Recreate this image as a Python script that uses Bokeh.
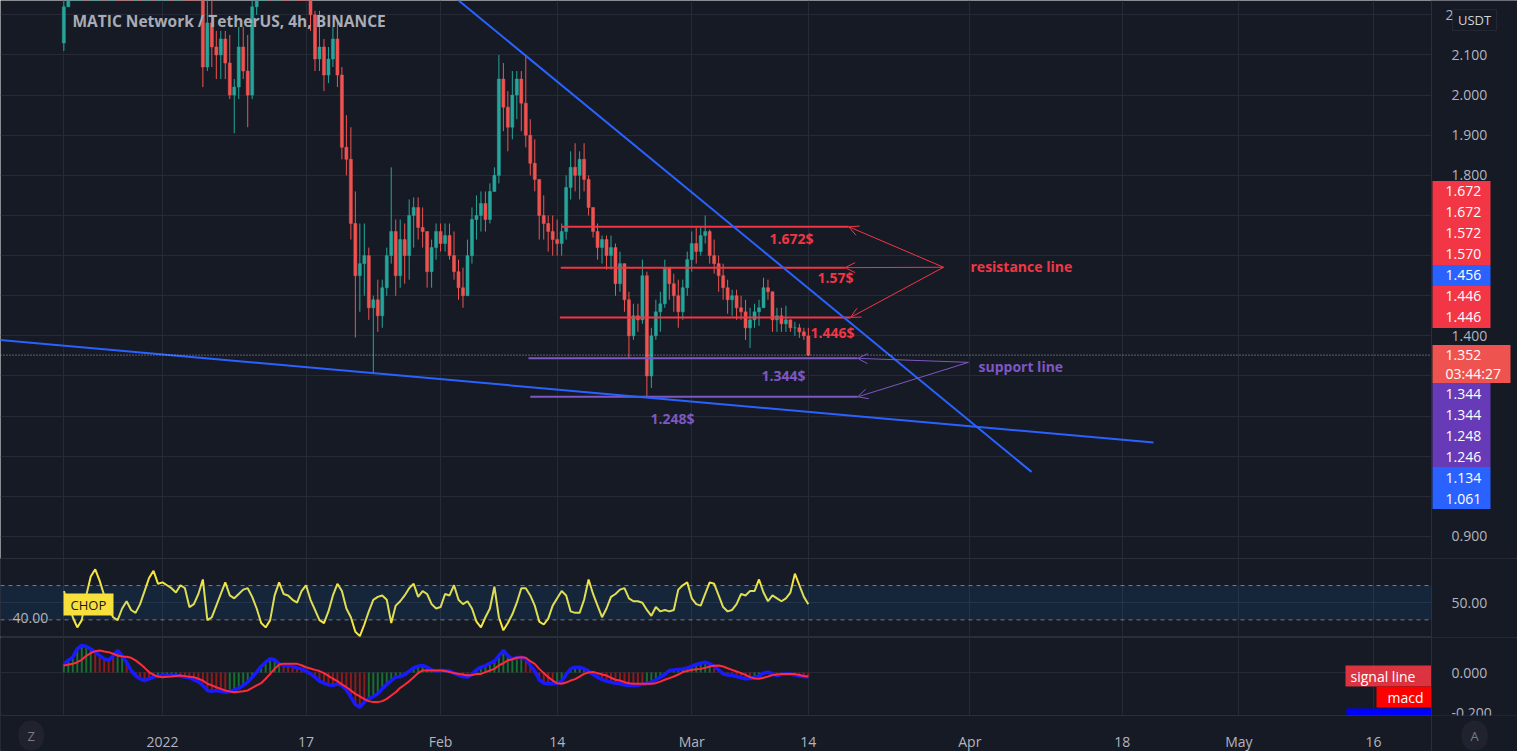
from bokeh.plotting import figure
from bokeh.layouts import column
from bokeh.models import (Range1d, FixedTicker, NumeralTickFormatter, Label, LinearAxis,
                          Arrow, OpenHead, ColumnDataSource, BoxAnnotation)
from bokeh.core.properties import value
from bokeh.embed import file_html
from bokeh.resources import INLINE

# ---------------- data (MATICUSDT, 12h steps) ----------------
first_day = -11.0          # days from 1 Jan 2022 of the first candle
candle_step = 0.5          # days per candle
first_open = 2.13

closes = [2.22, 2.30, 2.38, 2.45, 2.52, 2.48, 2.56, 2.62, 2.70, 2.68,
          2.78, 2.86, 2.80, 2.72, 2.58, 2.50, 2.56, 2.48, 2.52, 2.58,
          2.52, 2.54, 2.60, 2.64, 2.58, 2.62, 2.66, 2.60, 2.54, 2.48,
          2.30, 2.07, 2.18, 2.12, 2.10, 2.14, 2.08, 2.00, 2.02, 2.12,
          2.06, 2.00, 2.22, 2.30, 2.38, 2.44, 2.42, 2.48, 2.52, 2.50,
          2.46, 2.52, 2.48, 2.42, 2.36, 2.20, 2.09, 2.12, 2.05, 2.09,
          2.14, 2.05, 1.87, 1.84, 1.68, 1.55, 1.58, 1.60, 1.47, 1.49,
          1.45, 1.52, 1.60, 1.66, 1.55, 1.64, 1.60, 1.70, 1.72, 1.67,
          1.66, 1.56, 1.62, 1.66, 1.63, 1.65, 1.60, 1.56, 1.52, 1.50,
          1.60, 1.69, 1.70, 1.73, 1.69, 1.76, 1.80, 2.04, 1.97, 1.92,
          2.00, 2.04, 1.98, 1.90, 1.83, 1.79, 1.70, 1.68, 1.66, 1.64,
          1.63, 1.66, 1.77, 1.82, 1.80, 1.84, 1.79, 1.72, 1.66, 1.62,
          1.64, 1.60, 1.62, 1.53, 1.58, 1.49, 1.40, 1.45, 1.44, 1.55,
          1.30, 1.40, 1.46, 1.48, 1.57, 1.53, 1.50, 1.46, 1.52, 1.59,
          1.63, 1.61, 1.65, 1.66, 1.60, 1.58, 1.55, 1.52, 1.49, 1.50,
          1.47, 1.46, 1.42, 1.44, 1.46, 1.47, 1.52, 1.51, 1.44, 1.45,
          1.43, 1.44, 1.42, 1.42, 1.41, 1.40, 1.352]

highs = [2.24, 2.33, 2.42, 2.50, 2.56, 2.58, 2.62, 2.66, 2.74, 2.76,
         2.82, 2.90, 2.92, 2.84, 2.74, 2.62, 2.60, 2.58, 2.56, 2.62,
         2.62, 2.58, 2.64, 2.68, 2.68, 2.66, 2.72, 2.70, 2.64, 2.58,
         2.50, 2.32, 2.24, 2.26, 2.16, 2.16, 2.16, 2.15, 2.04, 2.17,
         2.17, 2.15, 2.25, 2.34, 2.42, 2.48, 2.50, 2.52, 2.56, 2.58,
         2.54, 2.56, 2.56, 2.50, 2.46, 2.36, 2.21, 2.21, 2.14, 2.12,
         2.17, 2.19, 2.07, 1.95, 1.92, 1.76, 1.68, 1.68, 1.62, 1.50,
         1.54, 1.54, 1.62, 1.82, 1.69, 1.69, 1.68, 1.74, 1.745, 1.745,
         1.72, 1.66, 1.64, 1.68, 1.68, 1.68, 1.68, 1.66, 1.59, 1.57,
         1.64, 1.72, 1.75, 1.76, 1.76, 1.78, 1.82, 2.10, 2.08, 2.01,
         2.06, 2.06, 2.06, 2.10, 1.94, 1.89, 1.79, 1.75, 1.70, 1.70,
         1.69, 1.68, 1.80, 1.86, 1.88, 1.86, 1.88, 1.80, 1.72, 1.68,
         1.65, 1.65, 1.65, 1.63, 1.61, 1.58, 1.51, 1.48, 1.48, 1.59,
         1.56, 1.42, 1.49, 1.51, 1.59, 1.57, 1.555, 1.54, 1.54, 1.61,
         1.66, 1.67, 1.67, 1.70, 1.665, 1.64, 1.60, 1.58, 1.54, 1.515,
         1.515, 1.50, 1.49, 1.47, 1.48, 1.49, 1.545, 1.54, 1.51, 1.47,
         1.47, 1.475, 1.44, 1.435, 1.43, 1.42, 1.42]

lows = [2.11, 2.22, 2.28, 2.36, 2.42, 2.44, 2.46, 2.52, 2.58, 2.62,
        2.64, 2.74, 2.76, 2.68, 2.52, 2.44, 2.46, 2.42, 2.44, 2.48,
        2.48, 2.48, 2.50, 2.56, 2.54, 2.54, 2.58, 2.56, 2.50, 2.44,
        2.26, 2.02, 2.06, 2.07, 2.04, 2.04, 2.04, 1.99, 1.905, 1.99,
        2.04, 1.92, 1.99, 2.20, 2.28, 2.36, 2.38, 2.40, 2.44, 2.46,
        2.42, 2.42, 2.42, 2.36, 2.30, 2.16, 2.06, 2.06, 2.01, 2.03,
        2.07, 2.02, 1.84, 1.80, 1.64, 1.396, 1.46, 1.50, 1.44, 1.306,
        1.41, 1.42, 1.50, 1.58, 1.50, 1.52, 1.53, 1.54, 1.62, 1.64,
        1.62, 1.52, 1.52, 1.59, 1.61, 1.61, 1.59, 1.54, 1.49, 1.47,
        1.50, 1.58, 1.64, 1.66, 1.66, 1.68, 1.76, 1.78, 1.91, 1.86,
        1.89, 1.94, 1.91, 1.87, 1.80, 1.76, 1.64, 1.64, 1.61, 1.60,
        1.60, 1.60, 1.64, 1.74, 1.76, 1.74, 1.76, 1.70, 1.645, 1.59,
        1.58, 1.565, 1.565, 1.50, 1.51, 1.46, 1.345, 1.39, 1.41, 1.43,
        1.248, 1.27, 1.39, 1.41, 1.47, 1.49, 1.46, 1.42, 1.44, 1.50,
        1.56, 1.58, 1.60, 1.63, 1.58, 1.555, 1.51, 1.49, 1.455, 1.45,
        1.44, 1.44, 1.39, 1.37, 1.42, 1.425, 1.47, 1.49, 1.41, 1.41,
        1.41, 1.41, 1.41, 1.40, 1.395, 1.39, 1.35]

chop_values = [58, 50, 40, 33, 38, 55, 68, 73, 65, 55,
               46, 40, 38, 46, 51, 45, 43, 49, 58, 67,
               72, 63, 64, 62, 60, 57, 62, 60, 47, 49,
               56, 66, 38, 40, 48, 56, 64, 55, 53, 56,
               59, 60, 54, 46, 36, 33, 38, 55, 64, 56,
               55, 52, 50, 58, 62, 52, 45, 38, 36, 44,
               55, 63, 58, 46, 40, 30, 27, 35, 44, 52,
               54, 55, 52, 36, 48, 51, 55, 60, 63, 54,
               58, 56, 49, 46, 47, 56, 55, 62, 52, 49,
               51, 46, 37, 33, 40, 46, 61, 40, 31, 36,
               42, 50, 60, 60, 55, 48, 37, 35, 39, 48,
               53, 58, 55, 44, 43, 43, 52, 66, 56, 48,
               40, 46, 54, 56, 59, 60, 53, 51, 51, 50,
               45, 41, 47, 44, 45, 44, 45, 59, 62, 64,
               53, 49, 48, 56, 64, 63, 55, 47, 44, 45,
               49, 56, 55, 58, 58, 66, 57, 51, 55, 53,
               51, 53, 57, 70, 62, 54, 49]

macd_values = [0.043, 0.060, 0.076, 0.117, 0.134, 0.129, 0.117, 0.101, 0.084, 0.068,
               0.060, 0.084, 0.109, 0.084, 0.051, 0.010, -0.015, -0.031, -0.040, -0.031,
               -0.023, -0.018, -0.015, -0.015, -0.015, -0.015, -0.018, -0.023, -0.026, -0.036,
               -0.045, -0.064, -0.089, -0.093, -0.089, -0.093, -0.098, -0.093, -0.086, -0.078,
               -0.064, -0.048, -0.023, 0.002, 0.030, 0.051, 0.068, 0.063, 0.043, 0.035,
               0.035, 0.031, 0.023, 0.018, 0.007, -0.007, -0.023, -0.043, -0.053, -0.061,
               -0.064, -0.056, -0.064, -0.086, -0.122, -0.159, -0.172, -0.147, -0.131, -0.119,
               -0.106, -0.081, -0.059, -0.040, -0.023, -0.020, -0.010, 0.007, 0.023, 0.031,
               0.035, 0.026, 0.013, 0.007, 0.010, 0.010, 0.007, -0.003, -0.013, -0.020,
               -0.023, -0.010, 0.013, 0.026, 0.033, 0.046, 0.056, 0.084, 0.109, 0.084,
               0.068, 0.073, 0.076, 0.068, 0.035, 0.007, -0.036, -0.053, -0.056, -0.056,
               -0.053, -0.043, -0.010, 0.018, 0.026, 0.026, 0.018, 0.007, -0.010, -0.023,
               -0.035, -0.043, -0.048, -0.053, -0.056, -0.061, -0.064, -0.064, -0.064, -0.059,
               -0.056, -0.048, -0.036, -0.023, -0.010, 0.010, 0.013, 0.015, 0.018, 0.023,
               0.031, 0.040, 0.046, 0.051, 0.043, 0.031, 0.013, -0.007, -0.012, -0.015,
               -0.020, -0.026, -0.031, -0.030, -0.025, -0.017, -0.003, 0.002, -0.007, -0.015,
               -0.010, -0.007, -0.008, -0.012, -0.017, -0.020, -0.023]

signal_values = [0.035, 0.038, 0.043, 0.051, 0.063, 0.083, 0.096, 0.106, 0.109, 0.104,
                 0.101, 0.093, 0.084, 0.079, 0.078, 0.073, 0.060, 0.043, 0.023, 0.002,
                 -0.012, -0.020, -0.023, -0.021, -0.020, -0.017, -0.015, -0.018, -0.021, -0.023,
                 -0.031, -0.040, -0.056, -0.064, -0.073, -0.081, -0.089, -0.094, -0.098, -0.096,
                 -0.093, -0.089, -0.076, -0.064, -0.053, -0.031, -0.007, 0.018, 0.040, 0.043,
                 0.043, 0.043, 0.043, 0.036, 0.026, 0.020, 0.013, 0.007, -0.003, -0.017,
                 -0.031, -0.043, -0.059, -0.073, -0.089, -0.106, -0.119, -0.132, -0.142, -0.147,
                 -0.147, -0.142, -0.131, -0.114, -0.098, -0.076, -0.061, -0.043, -0.023, -0.003,
                 0.010, 0.010, 0.010, 0.010, 0.010, 0.007, 0.002, -0.003, -0.007, -0.010,
                 -0.015, -0.012, -0.008, -0.007, 0.002, 0.010, 0.018, 0.035, 0.046, 0.060,
                 0.066, 0.073, 0.076, 0.073, 0.056, 0.043, 0.018, -0.003, -0.023, -0.040,
                 -0.053, -0.056, -0.050, -0.040, -0.033, -0.020, -0.007, 0.000, 0.002, -0.003,
                 -0.010, -0.015, -0.026, -0.036, -0.040, -0.048, -0.053, -0.056, -0.056, -0.056,
                 -0.056, -0.056, -0.053, -0.045, -0.036, -0.028, -0.020, -0.010, 0.002, 0.007,
                 0.013, 0.016, 0.018, 0.023, 0.030, 0.033, 0.035, 0.030, 0.021, 0.013,
                 0.005, -0.003, -0.012, -0.023, -0.030, -0.031, -0.026, -0.020, -0.013, -0.010,
                 -0.008, -0.007, -0.007, -0.008, -0.012, -0.017, -0.020]

time_tick_days = [-11, 0, 16, 31, 44, 59, 72, 90, 107, 120, 135]
time_tick_labels = ["", "2022", "17", "Feb", "14", "Mar", "14", "Apr", "18", "May", "16"]
price_ticks = [0.9, 1.0, 1.1, 1.2, 1.3, 1.4, 1.5, 1.6, 1.7, 1.8, 1.9, 2.0, 2.1, 2.2]

resistance_levels = [1.672, 1.57, 1.446]
resistance_start = [44.5, 44.4, 44.3]
resistance_end = [76.5, 76.1, 76.7]
resistance_texts = ["1.672$", "1.57$", "1.446$"]
support_levels = [1.344, 1.248]
support_start = [40.8, 41.0]
support_end = [77.5, 77.5]
support_texts = ["1.344$", "1.248$"]

trend_down_days = [28.0, 96.88]
trend_down_prices = [2.328, 1.061]
trend_low_days = [-51.4, 110.48]
trend_low_prices = [1.456, 1.134]

resistance_apex = (87.07, 1.571)
support_apex = (89.85, 1.334)

last_price = 1.352
countdown = "03:44:27"
scale_marks = [1.672, 1.672, 1.572, 1.570, 1.456, 1.446, 1.446,
               1.344, 1.344, 1.248, 1.246, 1.134, 1.061]
scale_mark_kinds = ["r", "r", "r", "r", "b", "r", "r", "p", "p", "p", "p", "b", "b"]

# ---------------- layout constants ----------------
BG = "#161a25"
GRID = "#262a36"
SEP = "#2a2e39"
TXT = "#b2b5be"
UP = "#26a69a"
DOWN = "#ef5350"
RED = "#f23645"
PURPLE = "#7e57c2"
BLUE = "#2962ff"
KIND_COLOR = {"r": "#f23645", "b": "#2962ff", "p": "#673ab7"}
FONT = "Open Sans"
SCALE_FS = "14px"

PAGE_W = 1517
PLOT_W = 1431                     # width of the chart area left of the price scale
XMIN = -18.06
PX_DAY = 8.9701
XMAX = XMIN + PAGE_W / PX_DAY
H1, H2, H3 = 558, 79, 114         # pane heights (last one includes the time scale)
TIME_AXIS_Y = 715
P_TOP = 2.2358
PRICE_PX = 401.25
P_BOT = P_TOP - H1 / PRICE_PX
C_TOP = 80.42
CHOP_PX = 1.453
C_BOT = C_TOP - H2 / CHOP_PX
M_TOP = 0.1737
MACD_PX = 201.5
M_BOT = M_TOP - H3 / MACD_PX
LABEL_STANDOFF = 14


def px2day(px):
    return XMIN + px / PX_DAY


def py2price(py):
    return P_TOP - py / PRICE_PX


def py2chop(py):
    return C_TOP - (py - H1) / CHOP_PX


def py2macd(py):
    return M_TOP - (py - H1 - H2) / MACD_PX


xr = Range1d(XMIN, XMAX)
X_SCALE = px2day(PLOT_W)


def make_fig(frame_h, y0, y1, grid_ticks, axis_ticks, fmt):
    p = figure(x_range=xr, y_range=Range1d(y0, y1), frame_width=PAGE_W, frame_height=frame_h,
               output_backend="svg", toolbar_location=None, y_axis_location=None,
               x_axis_location=None, min_border_left=0, min_border_right=0, min_border_top=0,
               min_border_bottom=0, background_fill_color=BG, border_fill_color=BG,
               outline_line_color=None)
    p.xgrid.ticker = FixedTicker(ticks=time_tick_days)
    p.xgrid.grid_line_color = GRID
    p.ygrid.ticker = FixedTicker(ticks=grid_ticks)
    p.ygrid.grid_line_color = GRID
    # hide grid in the price-scale strip
    p.add_layout(BoxAnnotation(left=X_SCALE, fill_color=BG, fill_alpha=1, line_color=None,
                               level="underlay"))
    ax = LinearAxis(fixed_location=X_SCALE, ticker=FixedTicker(ticks=axis_ticks),
                    formatter=NumeralTickFormatter(format=fmt))
    ax.axis_line_color = SEP
    ax.major_tick_line_color = None
    ax.minor_tick_line_color = None
    ax.major_label_text_color = TXT
    ax.major_label_text_font = FONT
    ax.major_label_text_font_size = SCALE_FS
    ax.major_label_standoff = LABEL_STANDOFF
    p.add_layout(ax, "right")
    return p


def tag(p, conv, left_px, right_px, top_py, bottom_py, color, texts, text_px,
        text_color="white", fs=SCALE_FS):
    """A filled price-scale tag drawn above the scale labels."""
    p.add_layout(BoxAnnotation(left=px2day(left_px), right=px2day(right_px), top=conv(top_py),
                               bottom=conv(bottom_py), fill_color=color, fill_alpha=1,
                               line_color=None))
    n_lines = len(texts)
    step = (bottom_py - top_py) / n_lines
    for k, t in enumerate(texts):
        p.add_layout(Label(x=px2day(text_px), y=conv(top_py + step * (k + 0.5)), text=t,
                           text_font=FONT, text_font_size=fs, text_color=text_color,
                           text_align="left", text_baseline="middle"))


# ---------------- main price pane ----------------
p1 = make_fig(H1, P_BOT, P_TOP, price_ticks, price_ticks[:-1], "0.000")
# the top tick label sits under the currency badge
p1.text(x=[px2day(PLOT_W + LABEL_STANDOFF)], y=[price_ticks[-1]],
        text=[f"{price_ticks[-1]:.3f}"], text_color=TXT, text_font=value(FONT),
        text_font_size=SCALE_FS, text_align="left", text_baseline="middle")

n = len(closes)
days = [first_day + candle_step * i for i in range(n)]
opens = [first_open] + closes[:-1]
src = ColumnDataSource(dict(
    x=days, o=opens, c=closes, h=highs, l=lows,
    top=[max(o, c) for o, c in zip(opens, closes)],
    bot=[min(o, c) for o, c in zip(opens, closes)],
    color=[UP if c >= o else DOWN for o, c in zip(opens, closes)]))
p1.segment(x0="x", x1="x", y0="l", y1="h", line_color="color", line_width=1, source=src)
p1.vbar(x="x", width=0.34, top="top", bottom="bot", fill_color="color",
        line_color="color", line_width=0.5, source=src)

# level lines
p1.segment(x0=resistance_start, x1=resistance_end, y0=resistance_levels, y1=resistance_levels,
           line_color=RED, line_width=2)
p1.segment(x0=support_start, x1=support_end, y0=support_levels, y1=support_levels,
           line_color=PURPLE, line_width=2)

# trend lines
p1.line(trend_down_days, trend_down_prices, line_color=BLUE, line_width=2)
p1.line(trend_low_days, trend_low_prices, line_color=BLUE, line_width=2)

# current price line (stops at the price scale)
p1.segment(x0=[XMIN], x1=[X_SCALE], y0=[last_price], y1=[last_price], line_color="#c9c9d1",
           line_dash="1 2", line_width=1, line_alpha=0.8)

# arrows
for lv, xe in zip(resistance_levels, resistance_end):
    p1.add_layout(Arrow(end=OpenHead(size=10, line_color=RED, line_width=1),
                        x_start=resistance_apex[0], y_start=resistance_apex[1],
                        x_end=xe, y_end=lv, line_color=RED, line_width=1))
for lv, xe in zip(support_levels, support_end):
    p1.add_layout(Arrow(end=OpenHead(size=10, line_color=PURPLE, line_width=1),
                        x_start=support_apex[0], y_start=support_apex[1],
                        x_end=xe, y_end=lv, line_color=PURPLE, line_width=1))

# drawing texts
res_text_px = [(791, 238), (835, 277), (832, 332)]
p1.text(x=[px2day(a) for a, b in res_text_px], y=[py2price(b) for a, b in res_text_px],
        text=resistance_texts, text_color=RED, text_font=value(FONT), text_font_style="bold",
        text_font_size="14px", text_align="center", text_baseline="middle")
sup_text_px = [(783, 375), (672, 418)]
p1.text(x=[px2day(a) for a, b in sup_text_px], y=[py2price(b) for a, b in sup_text_px],
        text=support_texts, text_color=PURPLE, text_font=value(FONT), text_font_style="bold",
        text_font_size="14px", text_align="center", text_baseline="middle")
p1.text(x=[px2day(970)], y=[py2price(266)], text=["resistance line"], text_color=RED,
        text_font=value(FONT), text_font_style="bold", text_font_size="14px",
        text_align="left", text_baseline="middle")
p1.text(x=[px2day(978)], y=[py2price(366)], text=["support line"], text_color=PURPLE,
        text_font=value(FONT), text_font_style="bold", text_font_size="14px",
        text_align="left", text_baseline="middle")

# title
p1.add_layout(Label(x=px2day(72), y=py2price(20), text="MATIC Network / TetherUS, 4h, BINANCE",
                    text_font=FONT, text_font_style="bold", text_font_size="15.5px",
                    text_color="#a9acb5", text_align="left", text_baseline="middle"))

# price-scale marks, stacked like the platform does
BOX_H = 21
nat = lambda v: (P_TOP - v) * PRICE_PX
cur_top = nat(last_price) - 10
cur_bot = cur_top + 38
positions = {}
nb = cur_top
for idx in reversed(range(len(scale_marks))):
    v = scale_marks[idx]
    if v > last_price:
        b = min(nat(v) + BOX_H / 2, nb)
        positions[idx] = b - BOX_H
        nb = b - BOX_H
nt = cur_bot
for idx, v in enumerate(scale_marks):
    if v < last_price:
        t = max(nat(v) - BOX_H / 2, nt)
        positions[idx] = t
        nt = t + BOX_H
for idx, v in enumerate(scale_marks):
    tag(p1, py2price, PLOT_W + 1, 1490, positions[idx], positions[idx] + BOX_H,
        KIND_COLOR[scale_mark_kinds[idx]], [f"{v:.3f}"], 1445)
tag(p1, py2price, PLOT_W + 1, 1510, cur_top, cur_bot, "#ef5350",
    [f"{last_price:.3f}", countdown], 1445)

# currency badge
p1.add_layout(BoxAnnotation(left=px2day(1452), right=px2day(1496), top=py2price(9),
                            bottom=py2price(30), fill_color=BG, fill_alpha=1,
                            line_color="#434651", line_width=1))
p1.add_layout(Label(x=px2day(1474), y=py2price(19.5), text="USDT", text_font=FONT,
                    text_font_size="13px", text_color="#d1d4dc", text_align="center",
                    text_baseline="middle"))

# ---------------- CHOP pane ----------------
p2 = make_fig(H2, C_BOT, C_TOP, [50], [50], "0.00")
p2.outline_line_color = SEP
p2.add_layout(BoxAnnotation(bottom=38.2, top=61.8, right=X_SCALE, fill_color="#2196f3",
                            fill_alpha=0.1, line_color=None))
p2.segment(x0=[XMIN, XMIN], x1=[X_SCALE, X_SCALE], y0=[61.8, 38.2], y1=[61.8, 38.2],
           line_color="#787b86", line_dash="4 4", line_width=1)
p2.line(days, chop_values, line_color="#f5e642", line_width=2)
tag(p2, py2chop, 63, 113, 593, 615, "#f7e03c", ["CHOP"], 70, text_color="#131722", fs="13px")
p2.add_layout(Label(x=px2day(12), y=py2chop(617), text="40.00", text_font=FONT,
                    text_font_size=SCALE_FS, text_color=TXT, text_align="left",
                    text_baseline="middle"))

# ---------------- MACD pane (with the time scale below it) ----------------
p3 = make_fig(H3, M_BOT, M_TOP, [0.0], [0.0, -0.2], "0.000")
p3.outline_line_color = SEP
AXIS_VAL = py2macd(TIME_AXIS_Y)
# time-scale strip hides grid lines
p3.add_layout(BoxAnnotation(top=AXIS_VAL, fill_color=BG, fill_alpha=1, line_color=None,
                            level="underlay"))
hist_src = ColumnDataSource(dict(
    x=days, top=macd_values,
    color=["#16702f" if m >= s else "#8e1b1b" for m, s in zip(macd_values, signal_values)]))
p3.vbar(x="x", width=0.22, top="top", bottom=0, fill_color="color", line_color=None,
        source=hist_src)
p3.line(days, macd_values, line_color="#1a1aff", line_width=3.5)
p3.line(days, signal_values, line_color="#ff2b3d", line_width=2)

# indicator value tags
p3.quad(left=[px2day(1345)], right=[X_SCALE], top=[py2macd(665)], bottom=[py2macd(686)],
        fill_color="#f23645", fill_alpha=0.9, line_color=None)
p3.quad(left=[px2day(1376)], right=[X_SCALE], top=[py2macd(686)], bottom=[py2macd(707)],
        fill_color="#ff0000", line_color=None)
p3.quad(left=[px2day(1346)], right=[X_SCALE], top=[py2macd(708)], bottom=[AXIS_VAL],
        fill_color="#0000ff", line_color=None)
p3.text(x=[px2day(1350), px2day(1387)], y=[py2macd(675.5), py2macd(696.5)],
        text=["signal line", "macd"], text_color="white",
        text_font=value(FONT), text_font_size=SCALE_FS, text_align="left",
        text_baseline="middle")

xa = LinearAxis(fixed_location=AXIS_VAL, ticker=FixedTicker(ticks=time_tick_days))
xa.major_label_overrides = {d: lab for d, lab in zip(time_tick_days, time_tick_labels)}
xa.axis_line_color = SEP
xa.major_tick_line_color = None
xa.minor_tick_line_color = None
xa.major_label_text_color = TXT
xa.major_label_text_font = FONT
xa.major_label_text_font_size = SCALE_FS
xa.major_label_standoff = 10
p3.add_layout(xa, "below")

# the time scale covers the lower half of the -0.200 scale label
p3.add_layout(BoxAnnotation(top=AXIS_VAL, left=px2day(PLOT_W + 1), fill_color=BG,
                            fill_alpha=1, line_color=None))

for lab, px in (("Z", 18), ("A", 1461)):
    p3.add_layout(Label(x=px2day(px), y=py2macd(720), text=lab, text_font=FONT,
                        text_font_size="13px", text_color="#787b86", text_align="left",
                        text_baseline="top", background_fill_color="#20232e",
                        border_radius=13, padding=dict(left=9, right=9, top=6, bottom=6)))

layout = column(p1, p2, p3, spacing=0)
open("out.html", "w").write(file_html(layout, INLINE))
